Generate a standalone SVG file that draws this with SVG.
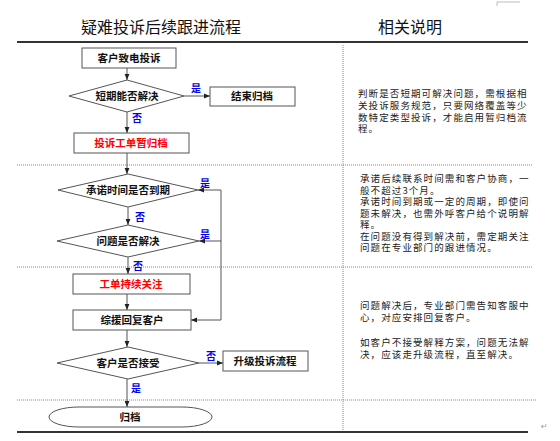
<svg xmlns="http://www.w3.org/2000/svg" width="560" height="441" viewBox="0 0 560 441">
<defs>
<style>
.bg{fill:#ffffff}
.box{fill:#ffffff;stroke:#555555;stroke-width:1}
.lbl{font-family:"Noto Sans CJK SC","Noto Sans",sans-serif;font-size:10.5px;font-weight:bold;fill:#111111;text-anchor:middle}
.red{fill:#ff0000}
.yn{font-family:"Noto Sans CJK SC","Noto Sans",sans-serif;font-size:10px;font-weight:bold;fill:#0000ee;text-anchor:middle}
.ttl{font-family:"Noto Sans CJK SC","Noto Sans",sans-serif;font-size:16px;fill:#111111;text-anchor:middle}
.note{font-family:"Noto Sans CJK SC","Noto Sans",sans-serif;font-size:9.5px;letter-spacing:1.1px;fill:#222222}
.dot{stroke:#888888;stroke-width:1;stroke-dasharray:1,1;fill:none}
.solid{stroke:#333333;stroke-width:2;fill:none}
.conn{stroke:#555555;stroke-width:1;fill:none}
</style>
<marker id="ah" viewBox="0 0 10 10" refX="10" refY="5" markerWidth="6" markerHeight="6" orient="auto" markerUnits="userSpaceOnUse">
<path d="M0,1 L10,5 L0,9 z" fill="#222222"/>
</marker>
</defs>
<rect class="bg" x="0" y="0" width="560" height="441"/>

<g id="frame">
<path d="M497,6 V2 H520" stroke="#bbbbbb" stroke-width="1" fill="none"/>
<text class="ttl" x="161" y="33">疑难投诉后续跟进流程</text>
<text class="ttl" x="410" y="33">相关说明</text>
<line class="solid" x1="17" y1="42" x2="528" y2="42"/>
<line class="dot" x1="343" y1="45" x2="343" y2="432"/>
<line class="dot" x1="17" y1="165" x2="533" y2="165"/>
<line class="dot" x1="17" y1="267" x2="533" y2="267"/>
<line class="dot" x1="17" y1="400" x2="537" y2="400"/>
<line class="solid" x1="17" y1="432" x2="528" y2="432"/>
<text x="541" y="429" font-family="DejaVu Sans,sans-serif" font-size="8" fill="#999999">↵</text>
</g>

<g id="connectors">
<line class="conn" x1="127" y1="68" x2="127" y2="80" marker-end="url(#ah)"/>
<line class="conn" x1="184" y1="96" x2="210" y2="96" marker-end="url(#ah)"/>
<line class="conn" x1="127" y1="112" x2="127" y2="133" marker-end="url(#ah)"/>
<line class="conn" x1="127" y1="153" x2="127" y2="174" marker-end="url(#ah)"/>
<line class="conn" x1="128" y1="207" x2="128" y2="225" marker-end="url(#ah)"/>
<line class="conn" x1="221" y1="190" x2="198" y2="190" marker-end="url(#ah)"/>
<line class="conn" x1="221" y1="241" x2="199" y2="241" marker-end="url(#ah)"/>
<path class="conn" d="M221,190 V320 H191" marker-end="url(#ah)"/>
<line class="conn" x1="128" y1="257" x2="128" y2="274" marker-end="url(#ah)"/>
<line class="conn" x1="127" y1="294" x2="127" y2="310" marker-end="url(#ah)"/>
<line class="conn" x1="127" y1="330" x2="127" y2="347" marker-end="url(#ah)"/>
<line class="conn" x1="199" y1="363" x2="223" y2="363" marker-end="url(#ah)"/>
<line class="conn" x1="127" y1="379" x2="127" y2="407" marker-end="url(#ah)"/>
<text class="yn" x="196" y="92">是</text>
<text class="yn" x="137" y="122">否</text>
<text class="yn" x="205" y="187">是</text>
<text class="yn" x="140" y="221">否</text>
<text class="yn" x="205" y="238">是</text>
<text class="yn" x="138" y="270">否</text>
<text class="yn" x="211" y="360">否</text>
<text class="yn" x="136" y="392">是</text>
</g>

<g id="n-call">
<rect class="box" x="82" y="48" width="94" height="20"/>
<text class="lbl" x="129" y="62">客户致电投诉</text>
</g>
<g id="n-short">
<polygon class="box" points="127,80 184,96 127,112 69,96"/>
<text class="lbl" x="127" y="100">短期能否解决</text>
</g>
<g id="n-close">
<rect class="box" x="210" y="87" width="85" height="19"/>
<text class="lbl" x="252" y="100">结束归档</text>
</g>
<g id="n-temp">
<rect class="box" x="74" y="133" width="115" height="20"/>
<text class="lbl red" x="131" y="147">投诉工单暂归档</text>
</g>
<g id="n-due">
<polygon class="box" points="128,174 198,190 128,207 58,190"/>
<text class="lbl" x="128" y="194">承诺时间是否到期</text>
</g>
<g id="n-solved">
<polygon class="box" points="128,225 199,241 128,257 57,241"/>
<text class="lbl" x="128" y="245">问题是否解决</text>
</g>
<g id="n-follow">
<rect class="box" x="73" y="274" width="117" height="20"/>
<text class="lbl red" x="131" y="288">工单持续关注</text>
</g>
<g id="n-reply">
<rect class="box" x="73" y="310" width="118" height="20"/>
<text class="lbl" x="132" y="324">综援回复客户</text>
</g>
<g id="n-accept">
<polygon class="box" points="128,347 199,363 128,379 57,363"/>
<text class="lbl" x="128" y="367">客户是否接受</text>
</g>
<g id="n-upgrade">
<rect class="box" x="223" y="351" width="85" height="20"/>
<text class="lbl" x="265" y="365">升级投诉流程</text>
</g>
<g id="n-archive">
<rect class="box" x="49" y="407" width="163" height="20" rx="30" ry="10"/>
<text class="lbl" x="130" y="421">归档</text>
</g>

<g id="notes">
<text class="note"><tspan x="358" y="97">判断是否短期可解决问题，需根据相</tspan><tspan x="358" y="109">关投诉服务规范，只要网络覆盖等少</tspan><tspan x="358" y="120.5">数特定类型投诉，才能启用暂归档流</tspan><tspan x="358" y="132">程。</tspan></text>
<text class="note"><tspan x="360" y="182">承诺后续联系时间需和客户协商，一</tspan><tspan x="360" y="193.5">般不超过3个月。</tspan><tspan x="360" y="205">承诺时间到期或一定的周期，即使问</tspan><tspan x="360" y="216.5">题未解决，也需外呼客户给个说明解</tspan><tspan x="360" y="228">释。</tspan><tspan x="360" y="239.5">在问题没有得到解决前，需定期关注</tspan><tspan x="360" y="251">问题在专业部门的跟进情况。</tspan></text>
<text class="note"><tspan x="360" y="309">问题解决后，专业部门需告知客服中</tspan><tspan x="360" y="321">心，对应安排回复客户。</tspan></text>
<text class="note"><tspan x="360" y="346">如客户不接受解释方案，问题无法解</tspan><tspan x="360" y="357.5">决，应该走升级流程，直至解决。</tspan></text>
</g>
</svg>
